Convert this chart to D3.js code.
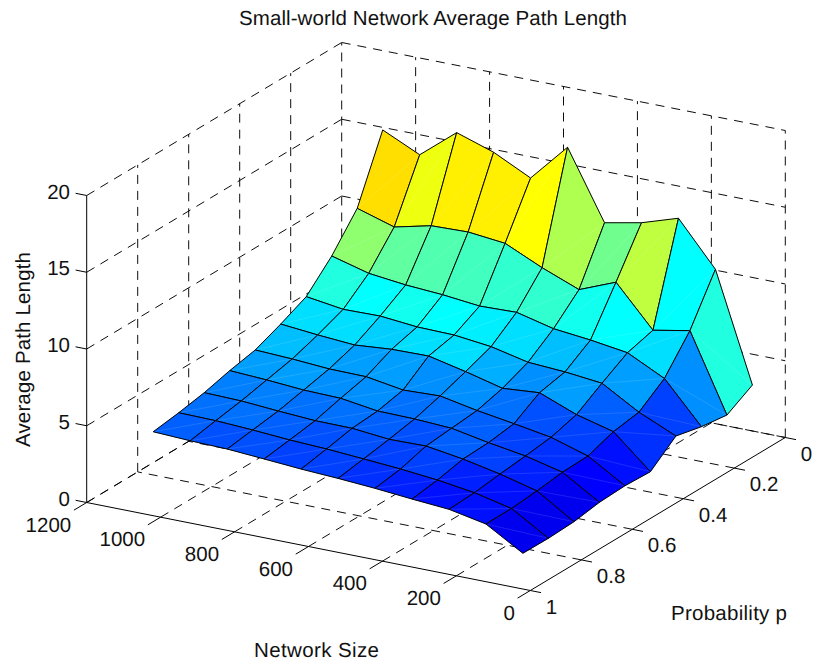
<!DOCTYPE html>
<html><head><meta charset="utf-8">
<script src="https://cdn.jsdelivr.net/npm/d3@7"></script>
<style>html,body{margin:0;background:#fff}svg{display:block}text{font-family:"Liberation Sans",Arial,sans-serif;fill:#111;text-rendering:geometricPrecision}</style>
</head><body><svg id="c" width="817" height="666"></svg>
<script>
const networkSizes=[20,120,220,320,420,520,620,720,820,920,1020];
const probabilities=[0.1,0.2,0.3,0.4,0.5,0.6,0.7,0.8,0.9,1.0];
// one row per probability, one column per network size
const pathLength=[
[4.32,11.38,14.23,13.46,12.98,17.42,14.94,16.14,16.94,15.02,16.16],
[3.36,8.38,7.93,10.58,9.62,10.57,11.68,11.94,11.87,11.31,12.05],
[3.60,6.26,7.46,7.81,8.07,8.66,8.59,8.85,9.01,9.29,9.94],
[3.99,5.06,6.47,6.73,6.88,7.42,7.70,7.75,7.98,7.94,8.29],
[2.66,4.79,5.42,6.37,6.18,6.79,7.33,7.29,7.09,7.27,7.50],
[2.74,4.20,4.94,5.35,5.73,6.20,6.11,6.50,6.53,6.70,6.81],
[2.66,4.14,4.72,5.11,5.57,5.70,5.74,6.09,6.15,6.33,6.46],
[2.39,3.92,4.54,5.04,5.41,5.37,5.61,5.63,5.78,5.96,6.02],
[2.31,3.77,4.32,4.67,4.91,5.09,5.26,5.37,5.54,5.67,5.71],
[2.33,3.76,4.24,4.43,4.65,4.82,4.95,5.13,5.30,5.36,5.47]];
const sizeTicks=[0,200,400,600,800,1000,1200];
const probTicks=[0,0.2,0.4,0.6,0.8,1];
const zTicks=[0,5,10,15,20];
const titleText="Small-world Network Average Path Length";

const svg=d3.select("#c");
const origin=[785.3,437.5];
const sx=d3.scaleLinear([0,1200],[0,-443.6]), sy=d3.scaleLinear([0,1200],[0,-88]);
const px=d3.scaleLinear([0,1],[0,-255]), py=d3.scaleLinear([0,1],[0,153]);
const zy=d3.scaleLinear([0,20],[0,-307]);
const proj=(s,p,z)=>[origin[0]+sx(s)+px(p), origin[1]+sy(s)+py(p)+zy(z)];

// MATLAB jet(64)
const u=k=>k<1?0:k<=16?k/16:k<=31?1:k<=47?(48-k)/16:0;
const jet=d3.range(1,65).map(i=>d3.rgb(255*u(i-24),255*u(i-8),255*u(i+8)).formatRgb());
const color=d3.scaleQuantize().domain(d3.extent(pathLength.flat())).range(jet);

const seg=(g,a,b)=>g.append("line").attr("x1",a[0]).attr("y1",a[1]).attr("x2",b[0]).attr("y2",b[1]);

// dashed grid
const grid=svg.append("g").attr("stroke","#000").attr("stroke-width",0.95).attr("stroke-dasharray","9 7").attr("fill","none");
sizeTicks.forEach(s=>{
  if(s>0) seg(grid,proj(s,1,0),proj(s,0,0));
  if(s<1200) seg(grid,proj(s,0,0),proj(s,0,20));
});
probTicks.forEach(p=>{
  if(p<1) seg(grid,proj(0,p,0),proj(1200,p,0));
  if(p<1) seg(grid,proj(1200,p,0),proj(1200,p,20));
});
zTicks.forEach(z=>{
  if(z>0) seg(grid,proj(1200,1,z),proj(1200,0,z));
  if(z>0) seg(grid,proj(1200,0,z),proj(0,0,z));
});
seg(grid,proj(1200,1,0),proj(1200,0,0));
seg(grid,proj(1200,0,0),proj(0,0,0));

// solid axes and ticks
const ax=svg.append("g").attr("stroke","#000").attr("stroke-width",1).attr("fill","none");
seg(ax,proj(1200,1,0),proj(0,1,0));
seg(ax,proj(0,1,0),proj(0,0,0));
seg(ax,proj(1200,1,0),proj(1200,1,20));
zTicks.forEach(z=>seg(ax,proj(1200,1,z),proj(1230,1,z)));
sizeTicks.forEach(s=>seg(ax,proj(s,1,0),proj(s,1.05,0)));
probTicks.forEach(p=>seg(ax,proj(0,p,0),proj(-29,p,0)));

// surface, back to front
const surf=svg.append("g");
const line=d3.line();
for(let j=0;j<probabilities.length-1;j++){
  for(let i=networkSizes.length-2;i>=0;i--){
    const v=(a,b)=>proj(networkSizes[a],probabilities[b],pathLength[b][a]);
    const c=color(pathLength[j+1][i+1]);
    surf.append("path").attr("d",line([v(i,j),v(i+1,j),v(i+1,j+1),v(i,j+1)])+"Z")
      .attr("fill",c).attr("stroke",c).attr("stroke-width",0.3);
    surf.append("path").attr("d",line([v(i+1,j+1),v(i,j)]))
      .attr("stroke","#fff").attr("stroke-opacity",0.2).attr("stroke-width",0.6).attr("fill","none");
    surf.append("path").attr("d",line([v(i,j),v(i+1,j),v(i+1,j+1),v(i,j+1)])+"Z")
      .attr("fill","none").attr("stroke","#000").attr("stroke-width",1).attr("stroke-linejoin","round");
  }
}

// text
const fs=20.5;
const label=(x,y,t,a)=>svg.append("text").attr("x",x).attr("y",y).attr("text-anchor",a).attr("font-size",fs).text(t);
zTicks.forEach(z=>{const q=proj(1200,1,z);label(70,q[1]-4+7,z,"end");});
sizeTicks.forEach(s=>{const q=proj(s,1,0);label(q[0]-15.5,q[1]+22.3+7,s,"end");});
probTicks.forEach(p=>{const q=proj(0,p,0);label(q[0]+15.5,q[1]+16+7,p,"start");});
const stretched=(x,y,t,len)=>svg.append("text").attr("x",x).attr("y",y).attr("font-size",fs).attr("textLength",len).attr("lengthAdjust","spacing").text(t);
stretched(239,25,titleText,388);
stretched(254,657,"Network Size",125);
stretched(671,620,"Probability p",116);
svg.append("text").attr("transform","translate(30,447) rotate(-90)").attr("font-size",fs).attr("textLength",195).attr("lengthAdjust","spacing").text("Average Path Length");
</script></body></html>
